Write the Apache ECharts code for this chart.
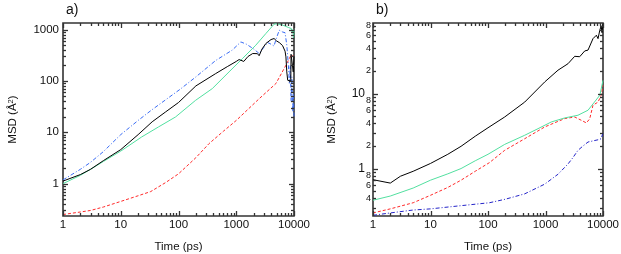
<!DOCTYPE html>
<html><head><meta charset="utf-8">
<script src="https://cdn.jsdelivr.net/npm/echarts@6/dist/echarts.min.js"></script>
<style>html,body{margin:0;padding:0;background:#fff}#c{width:621px;height:254px}</style>
</head><body><div id="c"></div>
<script>
// ---- data: [time (ps), MSD (Å^2)] ----
const aBlack = [[1,1.12],[2,1.5],[3,1.9],[5,2.8],[10,4.6],[20,9],[35,16],[60,25],[100,38],[200,80],[440,139],[700,190],[1000,240],[1120,261],[1350,240],[1600,300],[1930,342],[2330,340],[2490,310],[2800,420],[3260,537],[4000,640],[4520,670],[5000,600],[5560,560],[6330,490],[7000,380],[7250,294],[7500,150],[7780,103],[8400,100],[8800,100],[8900,330],[9400,320],[9700,150],[10000,300]];
const aGreen = [[1,1.0],[2,1.45],[3,1.9],[5,2.7],[10,4.3],[23,8.1],[45,12.7],[89,19.9],[198,42],[385,71],[750,150],[1280,273],[2180,497],[3260,839],[4520,1275],[5000,1300],[6330,1230],[8000,1100],[9000,1050],[9300,900],[9600,1000],[9800,700],[10000,950]];
const aRed = [[1,0.25],[2,0.28],[3,0.30],[5,0.35],[10,0.45],[20,0.58],[33,0.7],[60,1.05],[100,1.55],[200,3.2],[337,6.0],[600,10.5],[1000,17],[2490,45],[4860,89],[7250,202],[8870,316],[10000,300]];
const aBlue = [[1,1.18],[2,1.9],[3,2.6],[5,4.2],[10,9],[20,17],[34,27],[60,43],[107,69],[200,120],[440,250],[850,398],[1200,575],[1500,520],[2000,420],[2490,343],[3000,450],[3500,560],[4000,520],[4500,480],[5000,700],[5560,973],[6330,900],[7000,870],[7500,500],[8000,200],[8300,90],[8600,200],[8900,40],[9200,120],[9500,25],[9800,60],[10000,20]];

const bBlack = [[1,0.71],[2,0.64],[3,0.79],[5,0.92],[10,1.17],[20,1.55],[34,1.98],[60,2.7],[100,3.5],[195,4.87],[435,7.7],[970,14.3],[1650,20.5],[2460,25],[3220,31.4],[3930,31],[4810,37],[5490,38],[6700,54],[7670,60],[8200,54],[8800,70],[9300,80],[9600,65],[10000,85]];
const bGreen = [[1,0.378],[2,0.43],[5,0.55],[10,0.70],[20,0.85],[34,1.0],[60,1.27],[100,1.55],[195,2.1],[435,2.78],[740,3.4],[1260,4.18],[2160,4.73],[3670,5.14],[5490,6.0],[7100,7.7],[8800,9.5],[10000,15]];
const bRed = [[1,0.256],[2,0.29],[5,0.35],[10,0.44],[20,0.56],[34,0.70],[60,0.92],[106,1.2],[195,1.75],[435,2.5],[970,3.59],[2160,4.64],[3220,4.87],[4200,4.4],[5140,4.06],[5870,4.6],[6700,7.0],[8200,7.7],[9300,9.5],[10000,12.9]];
const bBlue = [[1,0.238],[2,0.256],[5,0.28],[10,0.29],[34,0.32],[106,0.35],[200,0.39],[435,0.46],[970,0.62],[1650,0.84],[2460,1.15],[3000,1.4],[3670,1.75],[4490,2.0],[5490,2.26],[5870,2.33],[8200,2.42],[9300,2.5],[10000,3.0]];

// ---- axis ranges, ticks, labels ----
const xRange = [1, 10000];
const aYRange = [0.234, 1345];
const bYRange = [0.233, 87.3];
const xLabels = [1, 10, 100, 1000, 10000];
const aYLabels = [1, 10, 100, 1000];
const bYLabels = [0.4, 0.6, 0.8, 1, 2, 4, 6, 8, 10, 20, 40, 60, 80];
const decades = [0.1, 1, 10, 100, 1000, 10000];

const FRAME = '#333333';
const FONT = '"Liberation Sans", Arial, Helvetica, sans-serif';
const MAJOR_LEN = 5, MINOR_LEN = 3;

function tickList(range) {
  const out = [];
  decades.forEach(d => {
    for (let k = 1; k <= 9; k++) {
      const v = +(k * d).toPrecision(3);
      if (v >= range[0] - 1e-9 && v <= range[1] + 1e-9) out.push([v, k === 1]);
    }
  });
  return out;
}

const fmtA = v => String(Math.round(v));
const fmtB = v => {
  const e = Math.floor(Math.log10(v) + 1e-9);
  const m = Math.round(v / Math.pow(10, e));
  if (m === 1) return '{big|' + Math.round(v) + '}';
  return '{sm|' + m + '}';
};
const richB = { big: { fontSize: 12, fontFamily: FONT, color: '#111', padding: [0, 6, 0, 0] }, sm: { fontSize: 9, fontFamily: FONT, color: '#111' } };
const yName = '{n|MSD (Å}{sup|2}{n|)}';
const nameStyle = { color: '#111', fontFamily: FONT, fontSize: 11.5,
  rich: { sup: { fontSize: 7.5, fontFamily: FONT, color: '#111', verticalAlign: 'top' }, n: { fontSize: 11.5, fontFamily: FONT, color: '#111' } } };

function axis(grid, range, labels, fmt, name, nameGap, margin, rich) {
  return {
    type: 'log', logBase: 10, gridIndex: grid, min: range[0], max: range[1],
    splitLine: { show: false },
    axisLine: { show: false, onZero: false },
    axisTick: { show: false },
    axisLabel: { show: true, customValues: labels, formatter: fmt, margin: margin, color: '#111', fontFamily: FONT, fontSize: 11.5, rich: rich },
    name: name, nameLocation: 'middle', nameGap: nameGap, nameTextStyle: nameStyle
  };
}

function line(data, grid, color, type) {
  return {
    type: 'line', data, xAxisIndex: grid, yAxisIndex: grid, z: 3,
    symbol: 'none', showSymbol: false, smooth: false,
    lineStyle: { color, width: 1, type: type || 'solid' },
    itemStyle: { color }, emphasis: { disabled: true }
  };
}

const chart = echarts.init(document.getElementById('c'), null, { renderer: 'canvas' });
chart.setOption({
  animation: false,
  backgroundColor: '#fff',
  title: [
    { text: 'a)', left: 61, top: -2, textStyle: { fontSize: 14, fontWeight: 'normal', fontFamily: FONT, color: '#111' } },
    { text: 'b)', left: 371, top: -2, textStyle: { fontSize: 14, fontWeight: 'normal', fontFamily: FONT, color: '#111' } }
  ],
  grid: [
    { left: 63, top: 23, width: 231, height: 193, containLabel: false, outerBoundsMode: 'none', show: true, borderColor: FRAME, borderWidth: 1.6, backgroundColor: 'transparent' },
    { left: 373, top: 23, width: 230, height: 193, containLabel: false, outerBoundsMode: 'none', show: true, borderColor: FRAME, borderWidth: 1.6, backgroundColor: 'transparent' }
  ],
  xAxis: [
    axis(0, xRange, xLabels, fmtA, 'Time (ps)', 25, 3),
    axis(1, xRange, xLabels, fmtA, 'Time (ps)', 25, 3)
  ],
  yAxis: [
    axis(0, aYRange, aYLabels, fmtA, yName, 44, 4),
    axis(1, bYRange, bYLabels, fmtB, yName, 35, 2, richB)
  ],
  series: [
    line(aRed, 0, '#ff2a2a', [3, 2]),
    line(aGreen, 0, '#52e0a0'),
    line(aBlue, 0, '#3a6cf5', [4, 2, 1, 2]),
    line(aBlack, 0, '#000'),
    line(bRed, 1, '#ff2a2a', [3, 2]),
    line(bGreen, 1, '#52e0a0'),
    line(bBlue, 1, '#2424c8', [4, 2, 1, 2]),
    line(bBlack, 1, '#000')
  ]
});

// tick marks placed through the axes' own scales (mirrored on all four sides)
function tickGraphics(g, xr, yr) {
  const els = [];
  const xl = chart.convertToPixel({ xAxisIndex: g }, xr[0]);
  const xh = chart.convertToPixel({ xAxisIndex: g }, xr[1]);
  const yb = chart.convertToPixel({ yAxisIndex: g }, yr[0]);
  const yt = chart.convertToPixel({ yAxisIndex: g }, yr[1]);
  const st = () => ({ stroke: FRAME, lineWidth: 1.3 });
  tickList(xr).forEach(([v, maj]) => {
    const x = Math.round(chart.convertToPixel({ xAxisIndex: g }, v)) + 0.5;
    const len = maj ? MAJOR_LEN : MINOR_LEN;
    els.push({ type: 'line', silent: true, z: 10, shape: { x1: x, y1: yb, x2: x, y2: yb - len }, style: st() });
    els.push({ type: 'line', silent: true, z: 10, shape: { x1: x, y1: yt, x2: x, y2: yt + len }, style: st() });
  });
  tickList(yr).forEach(([v, maj]) => {
    const y = Math.round(chart.convertToPixel({ yAxisIndex: g }, v)) + 0.5;
    const len = maj ? MAJOR_LEN : MINOR_LEN;
    els.push({ type: 'line', silent: true, z: 10, shape: { x1: xl, y1: y, x2: xl + len, y2: y }, style: st() });
    els.push({ type: 'line', silent: true, z: 10, shape: { x1: xh, y1: y, x2: xh - len, y2: y }, style: st() });
  });
  return els;
}
chart.setOption({ graphic: { elements: tickGraphics(0, xRange, aYRange).concat(tickGraphics(1, xRange, bYRange)) } });
</script>
</body></html>
